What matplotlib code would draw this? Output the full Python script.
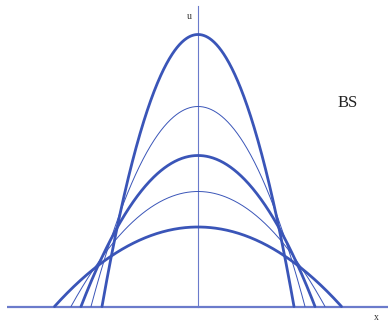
import numpy as np
import matplotlib
matplotlib.use("Agg")
import matplotlib.pyplot as plt

# Barenblatt-type profiles: peak heights and support half-widths
heights = [2.72, 2.00, 1.51, 1.15, 0.795]
half_widths = [0.96, 1.07, 1.17, 1.27, 1.435]
thick = [True, False, True, False, True]
label_text = "BS"

fig = plt.figure(figsize=(3.88, 3.24), dpi=100)
ax = fig.add_axes([0, 0, 1, 1])
ax.set_xlim(-1.98, 1.90)
ax.set_ylim(-0.175, 3.065)
ax.axis("off")

col = "#3a55b8"
# axes
ax.plot([-1.91, 1.90], [0, 0], color="#6b7bcb", lw=1.6, solid_capstyle="butt", zorder=1)
ax.plot([0, 0], [0, 3.005], color="#6b7bcb", lw=0.8, zorder=1)

for h, w, t in zip(heights, half_widths, thick):
    x = np.linspace(-w, w, 400)
    u = h * (1 - (x / w) ** 2)
    ax.plot(x, u, color=col, lw=2.0 if t else 0.7, zorder=3,
            solid_capstyle="round")

ax.text(-0.09, 2.895, "u", family="Liberation Serif", fontsize=7, ha="center", va="center", color="#333333")
ax.text(1.78, -0.115, "x", family="Liberation Serif", fontsize=7, ha="center", va="center", color="#333333")
ax.text(1.50, 2.035, label_text, family="Liberation Serif", fontsize=12, ha="center", va="center", color="#222222")

fig.savefig("out.png", dpi=100)
